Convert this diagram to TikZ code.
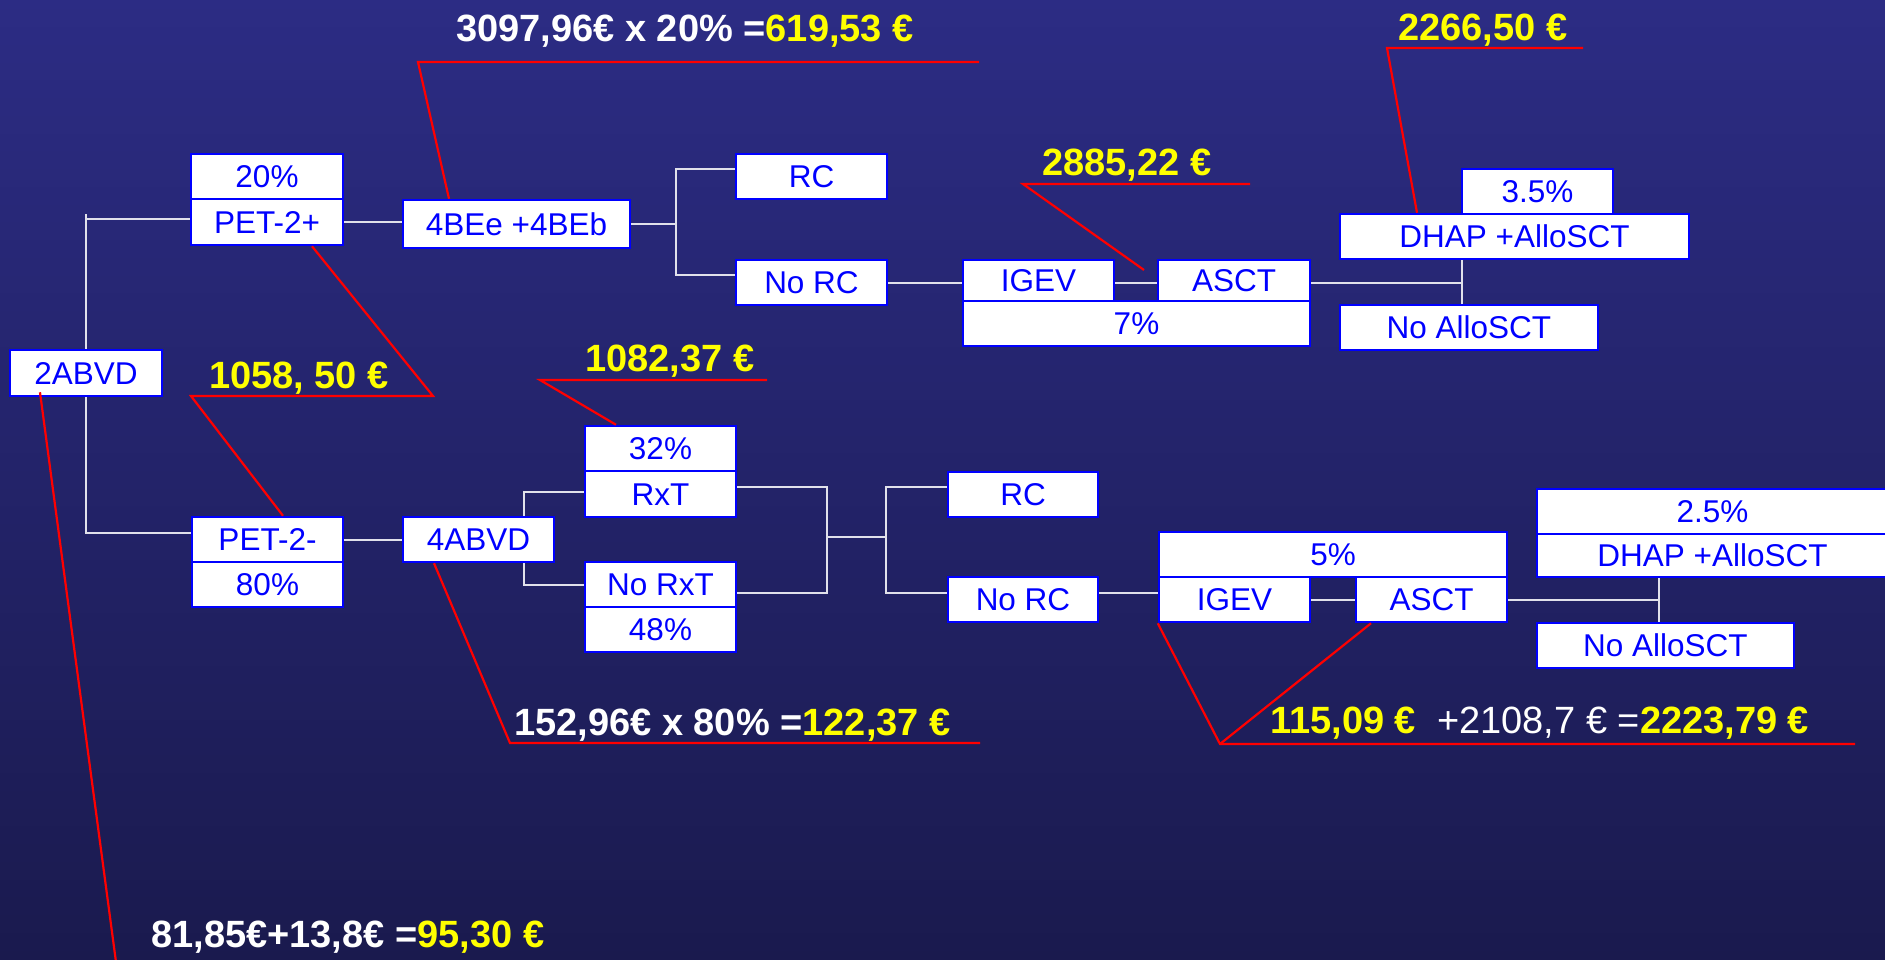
\documentclass[tikz,border=0pt]{standalone}
\usepackage{fontspec}
\setmainfont{Liberation Sans}
\definecolor{bxblue}{RGB}{0,0,255}
\definecolor{lblyellow}{RGB}{255,255,0}
\definecolor{wire}{RGB}{225,225,235}
\definecolor{callred}{RGB}{255,0,0}
\definecolor{bgtop}{RGB}{44,44,132}
\definecolor{bgmid}{RGB}{51,51,150}
\definecolor{bgbot}{RGB}{26,26,78}
\newcommand\mybox[6]{\node[bx, minimum width={#4-#2}, minimum height={#5-#3}] (#1) at ({(#2+#4)/2},{(#3+#5)/2}) {#6};}
\begin{document}
\begin{tikzpicture}[x=1pt,y=-1pt,
 bx/.style={draw=bxblue, line width=2.5pt, fill=white, text=bxblue, inner sep=0pt,
   font=\fontsize{31.5}{31.5}\selectfont, text height=22.8pt, text depth=0pt},
 wireline/.style={draw=wire, line width=2pt},
 callout/.style={draw=callred, line width=2.2pt},
 lbl/.style={font=\fontsize{38}{38}\selectfont\bfseries, inner sep=0pt, anchor=base west, text=white}
]
\useasboundingbox (0,0) rectangle (1885,959);
\shade[top color=bgtop, middle color=bgmid, bottom color=bgbot] (0,0) rectangle (1885,959);

% boxes
\mybox{t20}{191}{154}{343}{199}{20\%}
\mybox{pet2p}{191}{199}{343}{245}{PET-2+}
\mybox{bee}{403}{200}{630}{248}{4BEe +4BEb}
\mybox{rc1}{736}{154}{887}{199}{RC}
\mybox{norc1}{736}{260}{887}{305}{No RC}
\mybox{igev1}{963}{260}{1114}{301}{IGEV}
\mybox{asct1}{1158}{260}{1310}{301}{ASCT}
\mybox{p7}{963}{301}{1310}{346}{7\%}
\mybox{p35}{1462}{169}{1613}{214}{3.5\%}
\mybox{dhap1}{1340}{214}{1689}{259}{DHAP +AlloSCT}
\mybox{noallo1}{1340}{305}{1598}{350}{No AlloSCT}
\mybox{abvd2}{10}{350}{162}{396}{2ABVD}
\mybox{pet2m}{192}{517}{343}{562}{PET-2-}
\mybox{p80}{192}{562}{343}{607}{80\%}
\mybox{abvd4}{403}{517}{554}{562}{4ABVD}
\mybox{p32}{585}{426}{736}{471}{32\%}
\mybox{rxt}{585}{471}{736}{517}{RxT}
\mybox{norxt}{585}{562}{736}{607}{No RxT}
\mybox{p48}{585}{607}{736}{652}{48\%}
\mybox{rc2}{948}{472}{1098}{517}{RC}
\mybox{norc2}{948}{577}{1098}{622}{No RC}
\mybox{p5}{1159}{532}{1507}{577}{5\%}
\mybox{igev2}{1159}{577}{1310}{622}{IGEV}
\mybox{asct2}{1356}{577}{1507}{622}{ASCT}
\mybox{p25}{1537}{489}{1888}{534}{2.5\%}
\mybox{dhap2}{1537}{534}{1888}{577}{DHAP +AlloSCT}
\mybox{noallo2}{1537}{623}{1794}{668}{No AlloSCT}

% junction coordinates
\coordinate (j0) at (86,214);
\coordinate (j1a) at (676,169);
\coordinate (j1b) at (676,275);
\coordinate (j2) at (1462,283);
\coordinate (j3) at (524,540);
\coordinate (a1) at (827,487);
\coordinate (a2) at (827,593);
\coordinate (am) at (827,537);
\coordinate (bm) at (886,537);
\coordinate (b1) at (886,487);
\coordinate (b2) at (886,593);
\coordinate (j4) at (1659,600);

% white connectors
\draw[wireline] (abvd2.north) -- (j0);
\draw[wireline] (j0 |- pet2p.west) ++(0,-3) -- ([yshift=3pt]pet2p.west);
\draw[wireline] (abvd2.south) |- ([yshift=7pt]pet2m.west);
\draw[wireline] (pet2p.east) -- (pet2p.east -| bee.west);
\draw[wireline] (bee.east) -- (bee.east -| j1a);
\draw[wireline] (rc1.west |- j1a) -- (j1a) -- (j1b) -- (norc1.west |- j1b);
\draw[wireline] (norc1.east) -- (norc1.east -| igev1.west);
\draw[wireline] (igev1.east |- j2) -- (asct1.west |- j2);
\draw[wireline] (asct1.east |- j2) -- (j2);
\draw[wireline] (j2 |- dhap1.south) -- (j2 |- noallo1.north);
\draw[wireline] (pet2m.east) -- (pet2m.east -| abvd4.west);
\draw[wireline] (j3 |- abvd4.north) |- ([yshift=2pt]rxt.west);
\draw[wireline] (j3 |- abvd4.south) |- (norxt.west);
\draw[wireline] (rxt.east |- a1) -- (a1) -- (a2) -- (norxt.east |- a2);
\draw[wireline] (am) -- (bm);
\draw[wireline] (rc2.west |- b1) -- (b1) -- (b2) -- (norc2.west |- b2);
\draw[wireline] (norc2.east |- b2) -- (igev2.west |- b2);
\draw[wireline] (igev2.east |- j4) -- (asct2.west |- j4);
\draw[wireline] (asct2.east |- j4) -- (j4);
\draw[wireline] (j4 |- dhap2.south) -- (j4 |- noallo2.north);

% labels
\node[lbl] (c1) at (456,41) {3097,96€ x 20\% =\textcolor{lblyellow}{619,53 €}};
\node[lbl, text=lblyellow] (c2) at (1398,40) {2266,50 €};
\node[lbl, text=lblyellow] (c3) at (1042,175) {2885,22 €};
\node[lbl, text=lblyellow] (c4) at (209,388) {1058, 50 €};
\node[lbl, text=lblyellow] (c5) at (585,371) {1082,37 €};
\node[lbl] (c6) at (514,735) {152,96€ x 80\% =\textcolor{lblyellow}{122,37 €}};
\node[lbl] (c7) at (1270,733) {\textcolor{lblyellow}{115,09 €}\ \ \mdseries+2108,7 € =\bfseries\textcolor{lblyellow}{2223,79 €}};
\node[lbl] (c8) at (151,947) {81,85€+13,8€ =\textcolor{lblyellow}{95,30 €}};

% callout coordinates
\coordinate (c1a) at (418,62);  \coordinate (c1b) at (979,62);
\coordinate (c2a) at (1387,48); \coordinate (c2b) at (1583,48);
\coordinate (c3a) at (1023,184); \coordinate (c3b) at (1250,184);
\coordinate (c3e) at (1144,270);
\coordinate (c4a) at (191,396); \coordinate (c4b) at (433,396);
\coordinate (c5a) at (540,380); \coordinate (c5b) at (767,380);
\coordinate (c6a) at (510,743); \coordinate (c6b) at (980,743);
\coordinate (c7a) at (1220,744); \coordinate (c7b) at (1855,744);
\coordinate (c8e) at (116,962);

% red callouts
\draw[callout] (c1b) -- (c1a) -- ([xshift=-67.5pt]bee.north);
\draw[callout] (c2b) -- (c2a) -- ([xshift=-97.5pt]dhap1.north);
\draw[callout] (c3b) -- (c3a) -- (c3e);
\draw[callout] ([xshift=15.5pt]pet2m.north) -- (c4a) -- (c4b) -- ([xshift=45pt]pet2p.south);
\draw[callout] (c5b) -- (c5a) -- ([xshift=-44.5pt]p32.north);
\draw[callout] (c6b) -- (c6a) -- ([xshift=-44.5pt]abvd4.south);
\draw[callout] (igev2.south west) -- (c7a) -- (c7b);
\draw[callout] (c7a) -- ([xshift=-60.5pt]asct2.south);
\draw[callout] ([xshift=-46pt,yshift=5pt]abvd2.south) -- (c8e);
\end{tikzpicture}
\end{document}
